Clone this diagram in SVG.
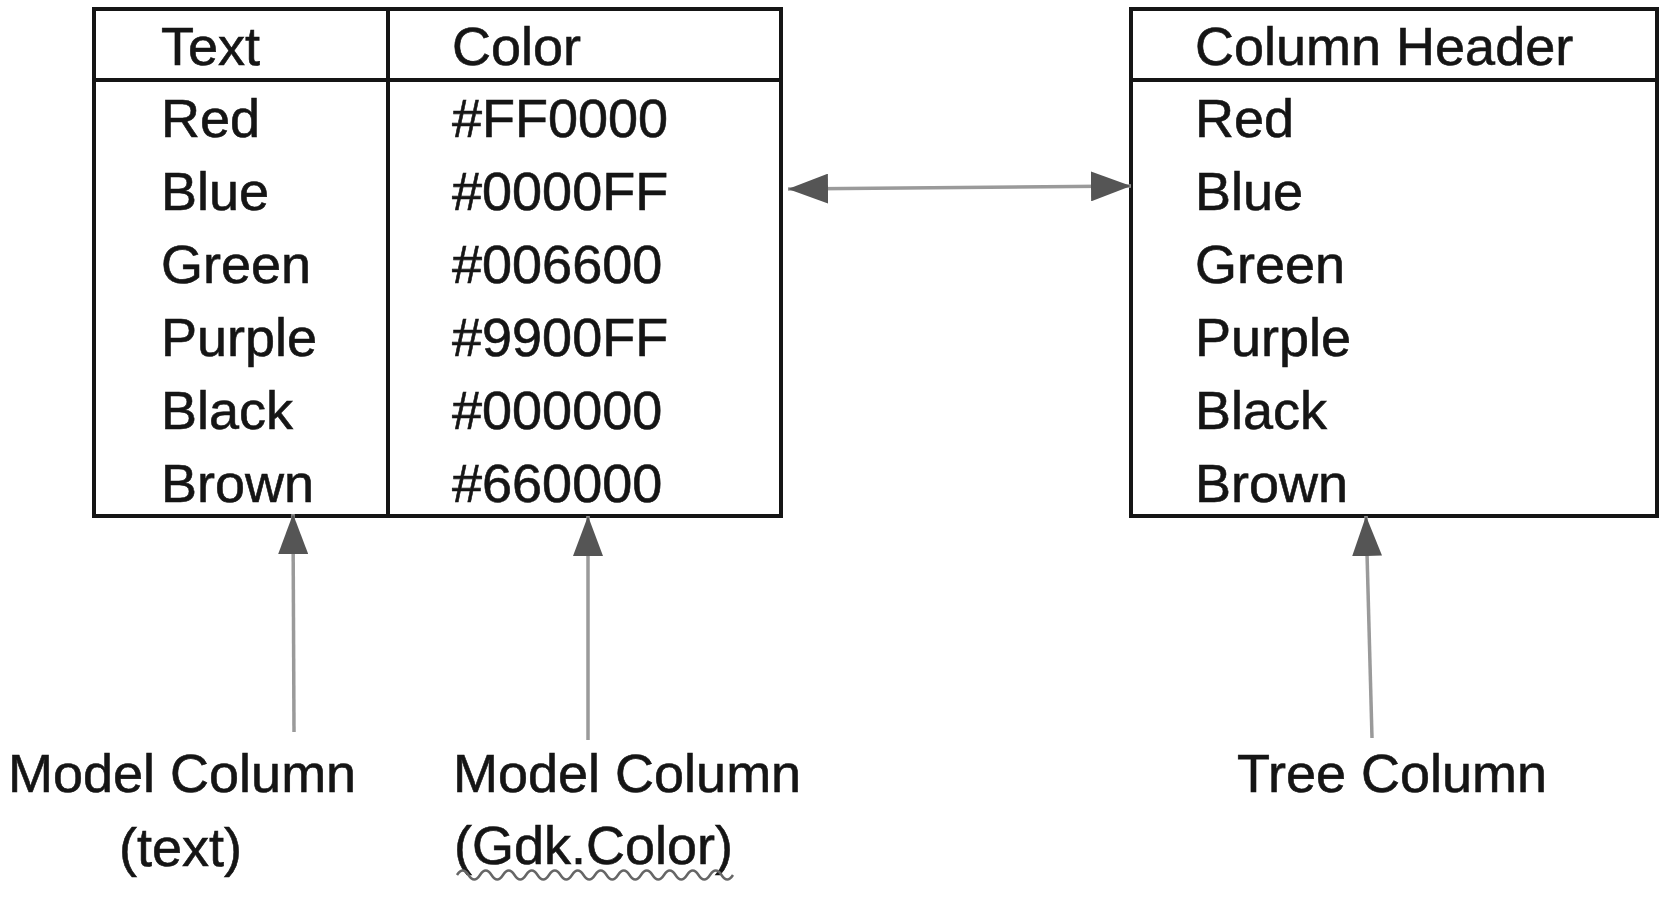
<svg xmlns="http://www.w3.org/2000/svg" width="1665" height="897" viewBox="0 0 1665 897">
<style>
.t{font-family:"Liberation Sans",Arial,sans-serif;font-size:54px;fill:#151515;stroke:#151515;stroke-width:0.6}
.box{fill:#fff;stroke:#151515;stroke-width:4}
.sep{stroke:#151515;stroke-width:4}
.conn{stroke:#9a9a9a;stroke-width:3.5;fill:none}
</style>
<defs>
<marker id="ah" viewBox="0 0 40 30" markerWidth="40" markerHeight="30" markerUnits="userSpaceOnUse" refX="40" refY="15" orient="auto-start-reverse">
<path d="M0,0 L40,15 L0,30 z" fill="#555"/>
</marker>
</defs>
<rect width="1665" height="897" fill="#fff"/>
<g id="model-table">
<rect class="box" x="94" y="9" width="687" height="507"/>
<line class="sep" x1="94" y1="80" x2="781" y2="80"/>
<line class="sep" x1="388" y1="9" x2="388" y2="516"/>
<text class="t" x="161" y="65">Text</text>
<text class="t" x="452" y="65">Color</text>
<text class="t" x="161" y="137">Red</text>
<text class="t" x="161" y="210">Blue</text>
<text class="t" x="161" y="283">Green</text>
<text class="t" x="161" y="356">Purple</text>
<text class="t" x="161" y="429">Black</text>
<text class="t" x="161" y="502">Brown</text>
<text class="t" x="452" y="137">#FF0000</text>
<text class="t" x="452" y="210">#0000FF</text>
<text class="t" x="452" y="283">#006600</text>
<text class="t" x="452" y="356">#9900FF</text>
<text class="t" x="452" y="429">#000000</text>
<text class="t" x="452" y="502">#660000</text>
</g>
<g id="tree-table">
<rect class="box" x="1131" y="9" width="526" height="507"/>
<line class="sep" x1="1131" y1="80" x2="1657" y2="80"/>
<text class="t" x="1195" y="65">Column Header</text>
<text class="t" x="1195" y="137">Red</text>
<text class="t" x="1195" y="210">Blue</text>
<text class="t" x="1195" y="283">Green</text>
<text class="t" x="1195" y="356">Purple</text>
<text class="t" x="1195" y="429">Black</text>
<text class="t" x="1195" y="502">Brown</text>
</g>
<g id="label-model-text">
<text class="t" x="8" y="792">Model Column</text>
<text class="t" x="119" y="866">(text)</text>
</g>
<g id="label-model-color">
<text class="t" x="453" y="792">Model Column</text>
<text class="t" x="454" y="864">(Gdk.Color)</text>
<path d="M457,875 q5.75,-9 11.5,0 t11.5,0 t11.5,0 t11.5,0 t11.5,0 t11.5,0 t11.5,0 t11.5,0 t11.5,0 t11.5,0 t11.5,0 t11.5,0 t11.5,0 t11.5,0 t11.5,0 t11.5,0 t11.5,0 t11.5,0 t11.5,0 t11.5,0 t11.5,0 t11.5,0 t11.5,0 t11.5,0" fill="none" stroke="#666" stroke-width="2.5"/>
</g>
<g id="label-tree">
<text class="t" x="1237" y="792">Tree Column</text>
</g>
<g id="connectors">
<line class="conn" x1="788" y1="189" x2="1131" y2="186" marker-start="url(#ah)" marker-end="url(#ah)"/>
<line class="conn" x1="294" y1="732" x2="293" y2="514" marker-end="url(#ah)"/>
<line class="conn" x1="588" y1="740" x2="588" y2="516" marker-end="url(#ah)"/>
<line class="conn" x1="1372" y1="738" x2="1366" y2="516" marker-end="url(#ah)"/>
</g>
</svg>
